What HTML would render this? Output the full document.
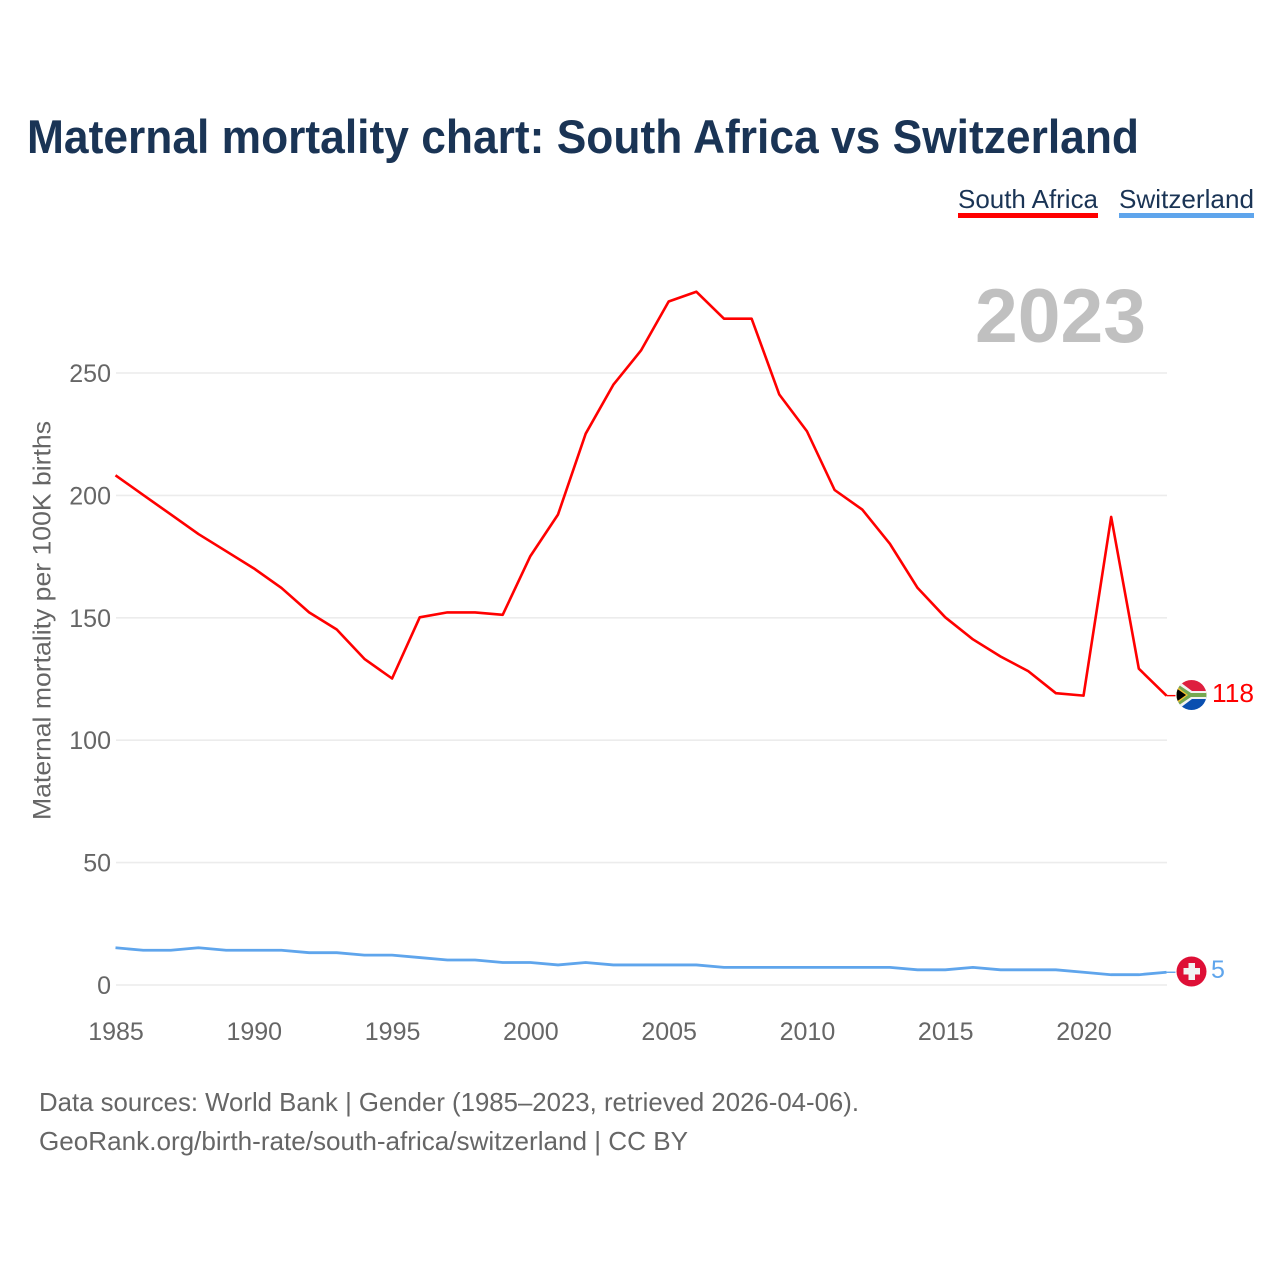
<!DOCTYPE html>
<html lang="en">
<head>
<meta charset="utf-8">
<title>Maternal mortality chart: South Africa vs Switzerland</title>
<style>
html,body{margin:0;padding:0;background:#fff;width:1280px;height:1280px;overflow:hidden}
svg{display:block}
text{font-family:"Liberation Sans",sans-serif}
</style>
</head>
<body>
<svg id="chart" xmlns="http://www.w3.org/2000/svg" width="1280" height="1280" viewBox="0 0 1280 1280">
  <defs>
    <clipPath id="flag-clip-za"><circle cx="1191.5" cy="695" r="15"/></clipPath>
  </defs>
  <text x="27" y="153" font-size="47" font-weight="700" fill="#1a3455" textLength="1112" lengthAdjust="spacingAndGlyphs">Maternal mortality chart: South Africa vs Switzerland</text>

  <g>
    <g>
      <text x="958" y="208" font-size="26" fill="#1a3455" textLength="140" lengthAdjust="spacingAndGlyphs">South Africa</text>
      <rect x="958" y="213" width="140" height="5" fill="#ff0000"/>
    </g>
    <g>
      <text x="1119" y="208" font-size="26" fill="#1a3455" textLength="135" lengthAdjust="spacingAndGlyphs">Switzerland</text>
      <rect x="1119" y="213" width="135" height="5" fill="#5fa5ec"/>
    </g>
  </g>

  <text x="975" y="342" font-size="76" font-weight="700" fill="#c0c0c0" textLength="171" lengthAdjust="spacingAndGlyphs">2023</text>

  <g id="grid"></g>
  <g id="y-ticks"></g>
  <g id="x-ticks"></g>
  <text transform="translate(50.5 620.5) rotate(-90)" text-anchor="middle" font-size="25" fill="#666666" textLength="399" lengthAdjust="spacingAndGlyphs">Maternal mortality per 100K births</text>

  <g id="series" transform="translate(-0.5 -0.5)"></g>

  <g id="flag-za">
    <g clip-path="url(#flag-clip-za)">
      <rect x="1176" y="680" width="31" height="15" fill="#de1f3f"/>
      <rect x="1176" y="695" width="31" height="16" fill="#0a4fb0"/>
      <path d="M1176 679 L1192 691 H1207 V699 H1192 L1176 711 Z" fill="#f2f2f2"/>
      <path d="M1176 683 L1191 693 H1207 V697 H1191 L1176 707 Z" fill="#76a850"/>
      <path d="M1176 686 L1188 695 L1176 704 Z" fill="#f4c430"/>
      <path d="M1176 688 L1186 695 L1176 702 Z" fill="#000000"/>
    </g>
  </g>
  <g id="flag-ch">
    <circle cx="1191.5" cy="971.5" r="15" fill="#de0f36"/>
    <rect x="1188.5" y="963" width="6.5" height="17" fill="#f2f2f2"/>
    <rect x="1183.5" y="968" width="16.5" height="6.5" fill="#f2f2f2"/>
  </g>
  <g id="end-labels"></g>

  <g>
    <text x="39" y="1111" font-size="26" fill="#666666" textLength="820" lengthAdjust="spacingAndGlyphs">Data sources: World Bank | Gender (1985–2023, retrieved 2026-04-06).</text>
    <text x="39" y="1150" font-size="26" fill="#666666" textLength="649" lengthAdjust="spacingAndGlyphs">GeoRank.org/birth-rate/south-africa/switzerland | CC BY</text>
  </g>
</svg>
<script>
const years = [1985,1986,1987,1988,1989,1990,1991,1992,1993,1994,1995,1996,1997,1998,1999,2000,2001,2002,2003,2004,2005,2006,2007,2008,2009,2010,2011,2012,2013,2014,2015,2016,2017,2018,2019,2020,2021,2022,2023];
const southAfrica = [208,200,192,184,177,170,162,152,145,133,125,150,152,152,151,175,192,225,245,259,279,283,272,272,241,226,202,194,180,162,150,141,134,128,119,118,191,129,118];
const switzerland = [15,14,14,15,14,14,14,13,13,12,12,11,10,10,9,9,8,9,8,8,8,8,7,7,7,7,7,7,7,6,6,7,6,6,6,5,4,4,5];
const yTicks = [0,50,100,150,200,250];
const xTicks = [1985,1990,1995,2000,2005,2010,2015,2020];

const NS = 'http://www.w3.org/2000/svg';
const plotLeft = 116, plotRight = 1167, plotBottom = 985, pxPer250 = 612;
function xScale(year) {
  return plotLeft + (year - years[0]) * (plotRight - plotLeft) / (years[years.length - 1] - years[0]);
}
function yScale(value) {
  return plotBottom - value * pxPer250 / 250;
}
function make(tag, attrs, parent, text) {
  const el = document.createElementNS(NS, tag);
  Object.keys(attrs).forEach(function (k) { el.setAttribute(k, attrs[k]); });
  if (text !== undefined) el.textContent = text;
  parent.appendChild(el);
  return el;
}

const gridGroup = document.getElementById('grid');
const yGroup = document.getElementById('y-ticks');
yTicks.forEach(function (t) {
  const line = make('line', {x1: plotLeft, x2: plotRight, y1: yScale(t), y2: yScale(t), stroke: '#ececec', 'stroke-width': 1.6}, gridGroup);
  
  
  const label = make('text', {x: 111, y: yScale(t) + 9, 'text-anchor': 'end', 'font-size': 25, fill: '#666666'}, yGroup, String(t));
  
  
});

const xGroup = document.getElementById('x-ticks');
xTicks.forEach(function (t) {
  const label = make('text', {x: xScale(t), y: 1040, 'text-anchor': 'middle', 'font-size': 25, fill: '#666666'}, xGroup, String(t));
  
  
});

function buildPoints(values) {
  return values.map(function (v, i) {
    return xScale(years[i]).toFixed(2) + ',' + yScale(v).toFixed(2);
  });
}
const seriesGroup = document.getElementById('series');

const lineZA = make('polyline', {points: buildPoints(southAfrica).join(' '), fill: 'none', stroke: '#ff0000', 'stroke-width': 2.6, 'stroke-linejoin': 'round'}, seriesGroup);


const lineCH = make('polyline', {points: buildPoints(switzerland).join(' '), fill: 'none', stroke: '#5fa5ec', 'stroke-width': 2.8, 'stroke-linejoin': 'round'}, seriesGroup);



const lastZA = southAfrica[southAfrica.length - 1];
const lastCH = switzerland[switzerland.length - 1];
const leadZA = make('line', {x1: plotRight, x2: plotRight + 9, y1: yScale(lastZA), y2: yScale(lastZA), stroke: '#ff0000', 'stroke-width': 1.4}, seriesGroup);


const leadCH = make('line', {x1: plotRight, x2: plotRight + 9, y1: yScale(lastCH), y2: yScale(lastCH), stroke: '#5fa5ec', 'stroke-width': 1.4}, seriesGroup);



document.getElementById('flag-za').setAttribute('transform', 'translate(0 ' + (yScale(lastZA) - 696.1).toFixed(2) + ')');
document.getElementById('flag-ch').setAttribute('transform', 'translate(0 ' + (yScale(lastCH) - 972.76).toFixed(2) + ')');

const endGroup = document.getElementById('end-labels');
const endZA = make('text', {x: 1212, y: yScale(lastZA) + 6, 'font-size': 26, fill: '#ff0000', textLength: 42, lengthAdjust: 'spacingAndGlyphs'}, endGroup, String(lastZA));


const endCH = make('text', {x: 1211, y: yScale(lastCH) + 5, 'font-size': 25, fill: '#5fa5ec'}, endGroup, String(lastCH));


</script>
</body>
</html>
